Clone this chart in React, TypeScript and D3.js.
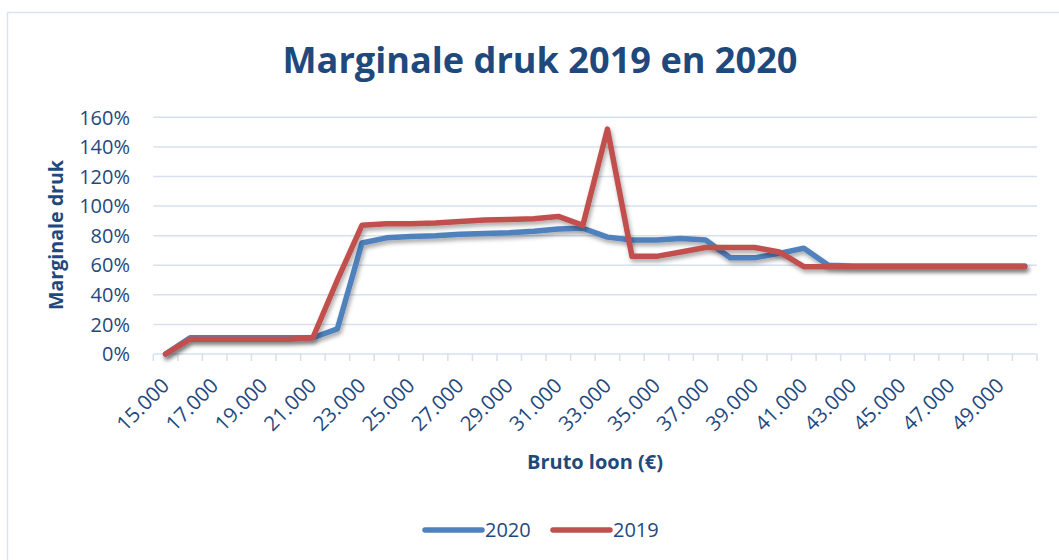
import React from "react";
import * as d3 from "d3";

const categories = [
  "15.000","16.000","17.000","18.000","19.000","20.000","21.000","22.000","23.000","24.000",
  "25.000","26.000","27.000","28.000","29.000","30.000","31.000","32.000","33.000","34.000",
  "35.000","36.000","37.000","38.000","39.000","40.000","41.000","42.000","43.000","44.000",
  "45.000","46.000","47.000","48.000","49.000","50.000",
];

const series2020 = [
  0, 11, 11, 11, 11, 11, 11, 17, 75, 78.5,
  79.5, 80, 81, 81.5, 82, 83, 84.5, 85, 79, 77,
  77, 78, 77, 65, 65, 68, 71.5, 60, 59.5, 59.5,
  59.5, 59.5, 59.5, 59.5, 59.5, 59.5,
];

const series2019 = [
  0, 10, 10, 10, 10, 10, 11, 50, 87, 88,
  88, 88.5, 89.5, 90.5, 91, 91.5, 93, 87, 152, 66,
  66, 69, 72, 72, 72, 69, 59, 59, 59, 59,
  59, 59, 59, 59, 59, 59,
];

const yTicks = [0, 20, 40, 60, 80, 100, 120, 140, 160];
const xLabelEvery = 2;

const TEXT = "#1F497D";
const GRID = "#D6E0EF";
const FONT = "'Open Sans', 'Noto Sans', sans-serif";

export default function App() {
  const left = 153.3, right = 1037, top = 117.3, bottom = 354;
  const x = d3.scaleBand<string>().domain(categories).range([left, right]).padding(0);
  const y = d3.scaleLinear().domain([0, 160]).range([bottom, top]);
  const cx = (c: string) => (x(c) as number) + x.bandwidth() / 2;

  const line = d3
    .line<number>()
    .x((_, i) => cx(categories[i]))
    .y((v) => y(v));

  const boundaries = categories.map((c) => x(c) as number).concat([right]);

  const series = [
    { name: "2020", values: series2020, color: "#4F81BD" },
    { name: "2019", values: series2019, color: "#C0504D" },
  ];

  return (
    <svg
      width={1059}
      height={560}
      style={{ position: "absolute", left: 0, top: 0, background: "#fff" }}
    >
      <defs>
        <filter id="sh" x="-10%" y="-10%" width="120%" height="130%">
          <feDropShadow dx="1.5" dy="3" stdDeviation="2" floodColor="#000" floodOpacity="0.35" />
        </filter>
      </defs>
      <rect x={7.5} y={12.5} width={1200} height={700} fill="none" stroke="#D9E3F0" strokeWidth={1.5} />

      <text
        x={540}
        y={73}
        textAnchor="middle"
        fill={TEXT}
        fontFamily={FONT}
        fontWeight="bold"
        fontSize={36}
        textLength={515}
        lengthAdjust="spacingAndGlyphs"
      >
        Marginale druk 2019 en 2020
      </text>

      {yTicks.map((t) => (
        <g key={t}>
          <line x1={left} x2={right} y1={y(t)} y2={y(t)} stroke={GRID} strokeWidth={1.5} />
          <text
            x={130}
            y={y(t)}
            dy="0.36em"
            textAnchor="end"
            fill={TEXT}
            fontFamily={FONT}
            fontSize={20}
          >
            {t}%
          </text>
        </g>
      ))}

      {boundaries.map((b, i) => (
        <line key={i} x1={b} x2={b} y1={bottom} y2={bottom + 7} stroke={GRID} strokeWidth={1.5} />
      ))}

      {categories.map((c, i) =>
        i % xLabelEvery === 0 ? (
          <text
            key={c}
            transform={`translate(${cx(c) + 5},${bottom + 33}) rotate(-45)`}
            textAnchor="end"
            fill={TEXT}
            fontFamily={FONT}
            fontSize={20.5}
          >
            {c}
          </text>
        ) : null
      )}

      <text
        x={595}
        y={469}
        textAnchor="middle"
        fill={TEXT}
        fontFamily={FONT}
        fontWeight="bold"
        fontSize={19}
        textLength={136}
        lengthAdjust="spacingAndGlyphs"
      >
        Bruto loon (€)
      </text>

      <text
        transform={`translate(63,235) rotate(-90)`}
        textAnchor="middle"
        fill={TEXT}
        fontFamily={FONT}
        fontWeight="bold"
        fontSize={19}
        textLength={150}
        lengthAdjust="spacingAndGlyphs"
      >
        Marginale druk
      </text>

      {series.map((s) => (
        <path
          key={s.name}
          d={line(s.values) || ""}
          fill="none"
          stroke={s.color}
          strokeWidth={5.5}
          strokeLinejoin="round"
          strokeLinecap="round"
          filter="url(#sh)"
        />
      ))}

      {series.map((s, i) => {
        const lx = 425 + i * 128;
        return (
          <g key={s.name}>
            <line x1={lx} x2={lx + 57} y1={530} y2={530} stroke={s.color} strokeWidth={5.5} strokeLinecap="round" />
            <text x={lx + 60} y={537} fill={TEXT} fontFamily={FONT} fontSize={20}>
              {s.name}
            </text>
          </g>
        );
      })}
    </svg>
  );
}
